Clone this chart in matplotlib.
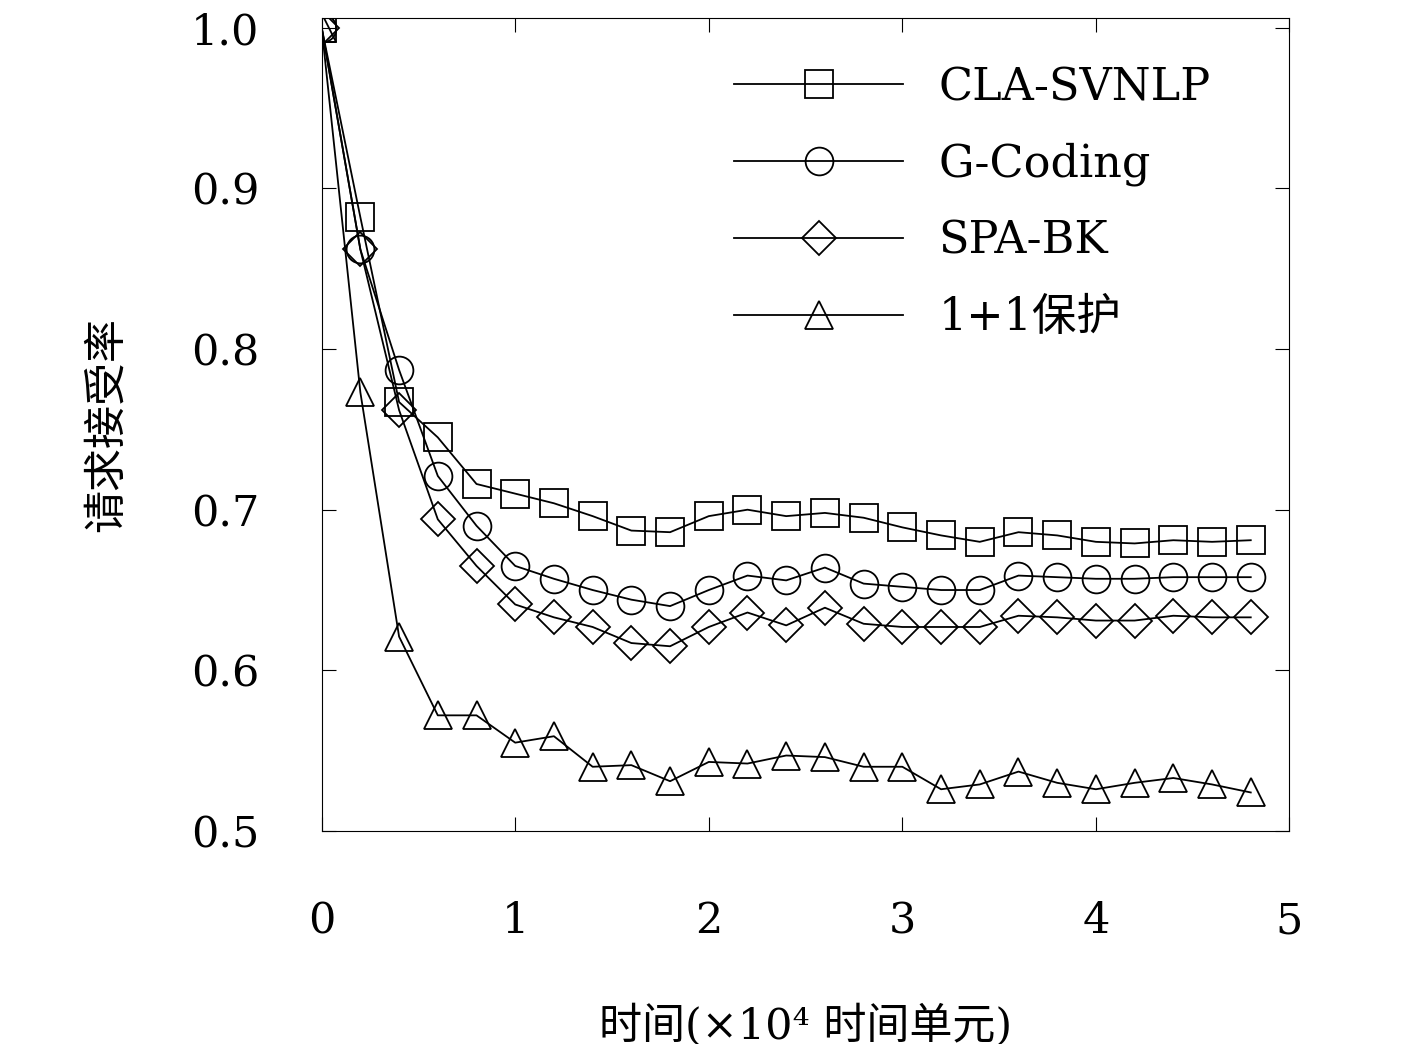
import matplotlib
matplotlib.use("Agg")
import matplotlib.pyplot as plt
import numpy as np

x = np.arange(25) * 0.2
cla = [1.0, 0.882, 0.767, 0.745, 0.716, 0.710, 0.704, 0.696, 0.687, 0.686, 0.696, 0.700, 0.696,
       0.698, 0.695, 0.689, 0.684, 0.680, 0.686, 0.684, 0.680, 0.679, 0.681, 0.680, 0.681]
gcod = [1.0, 0.862, 0.787, 0.721, 0.690, 0.665, 0.657, 0.650, 0.644, 0.640, 0.650, 0.659, 0.656,
        0.664, 0.654, 0.652, 0.650, 0.650, 0.659, 0.658, 0.657, 0.657, 0.658, 0.658, 0.658]
spa = [1.0, 0.862, 0.762, 0.694, 0.665, 0.641, 0.633, 0.627, 0.617, 0.615, 0.627, 0.636, 0.628,
       0.639, 0.629, 0.627, 0.627, 0.627, 0.634, 0.633, 0.631, 0.631, 0.634, 0.633, 0.633]
prot = [1.0, 0.773, 0.621, 0.572, 0.572, 0.555, 0.559, 0.540, 0.541, 0.531, 0.543, 0.542, 0.547,
        0.546, 0.540, 0.540, 0.526, 0.529, 0.537, 0.530, 0.526, 0.530, 0.533, 0.529, 0.524]
series = [("CLA-SVNLP", cla, "s"), ("G-Coding", gcod, "o"), ("SPA-BK", spa, "D"), ("1+1保护", prot, "^")]

plt.rcParams["font.family"] = ["DejaVu Serif", "Noto Sans CJK SC"]

fig = plt.figure(figsize=(14.17, 10.44), dpi=100)
ax = fig.add_axes([0.227, 0.204, 0.683, 0.779])
for name, vals, m in series:
    ax.plot(x, vals, color="black", lw=1.3, marker=m, ms=17 if m == "D" else 20,
            mfc="none", mec="black", mew=1.3, label=name)
ax.set_xlim(0, 5)
ax.set_ylim(0.5, 1.0062)
ax.set_xticks([0, 1, 2, 3, 4, 5])
ax.set_yticks([0.5, 0.6, 0.7, 0.8, 0.9, 1.0])
ax.set_yticklabels(["0.5", "0.6", "0.7", "0.8", "0.9", "1.0"])
ax.tick_params(direction="in", top=True, right=True, labelsize=31, length=10)
ax.tick_params(axis="x", pad=50)
ax.tick_params(axis="y", pad=45)
ax.set_xlabel("时间(×10⁴ 时间单元)", fontsize=31, labelpad=45)
ax.set_ylabel("请求接受率", fontsize=31, labelpad=45)
ax.legend(loc="upper right", frameon=False, fontsize=32, handlelength=3.8,
          labelspacing=0.75, bbox_to_anchor=(0.96, 0.99))
fig.savefig("out.png", dpi=100)
